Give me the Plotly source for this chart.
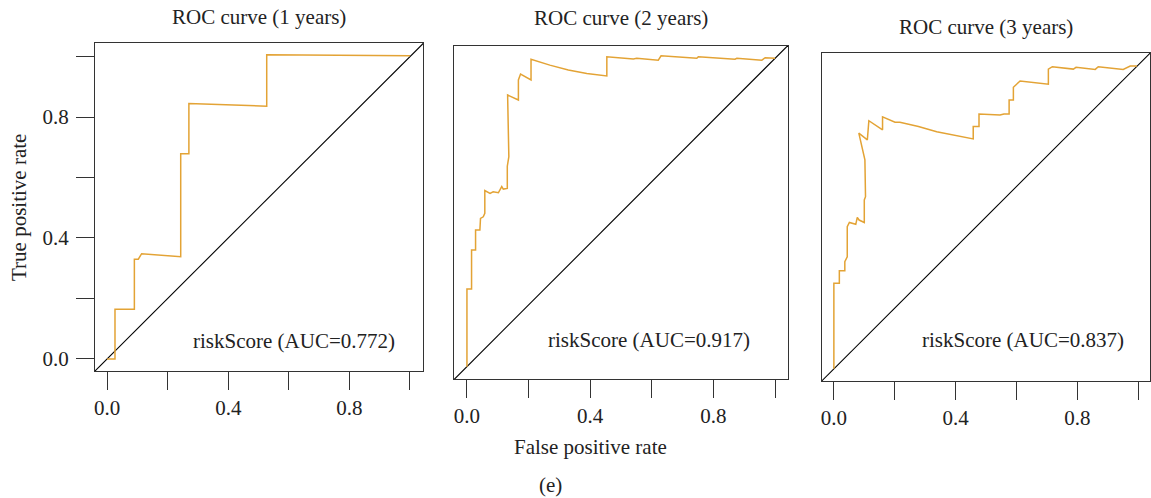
import plotly.graph_objects as go

# ---------------- data ----------------
titles = ["ROC curve (1 years)", "ROC curve (2 years)", "ROC curve (3 years)"]
auc_labels = ["riskScore (AUC=0.772)", "riskScore (AUC=0.917)", "riskScore (AUC=0.837)"]

fpr1 = [0, 0.026, 0.026, 0.090, 0.090, 0.103, 0.114, 0.243, 0.243, 0.270, 0.270, 0.527, 0.527, 1.0]
tpr1 = [0, 0, 0.164, 0.164, 0.330, 0.330, 0.348, 0.338, 0.679, 0.679, 0.845, 0.836, 1.006, 1.003]

fpr2 = [0, 0, 0.015, 0.015, 0.028, 0.028, 0.042, 0.044, 0.053, 0.058,
        0.058, 0.075, 0.085, 0.102, 0.113, 0.118, 0.131, 0.131, 0.136, 0.132,
        0.167, 0.167, 0.174, 0.208, 0.208, 0.269, 0.329, 0.389, 0.454, 0.454,
        0.540, 0.551, 0.621, 0.630, 0.746, 0.751, 0.870, 0.876, 0.957, 0.968, 1.0]
tpr2 = [0, 0.252, 0.252, 0.378, 0.378, 0.443, 0.443, 0.481, 0.486, 0.497,
        0.571, 0.562, 0.567, 0.564, 0.584, 0.576, 0.578, 0.650, 0.681, 0.881,
        0.865, 0.930, 0.949, 0.930, 0.997, 0.978, 0.962, 0.951, 0.943, 1.005,
        0.998, 1.0, 0.994, 1.008, 1.0, 1.005, 0.997, 1.0, 0.994, 1.002, 1.0]

fpr3 = [0, 0, 0.018, 0.018, 0.036, 0.036, 0.044, 0.044, 0.051, 0.072,
        0.077, 0.083, 0.100, 0.100, 0.104, 0.102, 0.082, 0.110, 0.115, 0.160,
        0.160, 0.201, 0.217, 0.278, 0.338, 0.398, 0.458, 0.458, 0.477, 0.477,
        0.546, 0.559, 0.576, 0.576, 0.590, 0.590, 0.612, 0.705, 0.705, 0.718,
        0.787, 0.796, 0.859, 0.869, 0.951, 0.974, 0.996]
tpr3 = [0, 0.282, 0.282, 0.323, 0.323, 0.353, 0.369, 0.468, 0.482, 0.476,
        0.499, 0.490, 0.482, 0.556, 0.567, 0.688, 0.776, 0.754, 0.817, 0.787,
        0.830, 0.812, 0.812, 0.798, 0.781, 0.770, 0.757, 0.798, 0.798, 0.839,
        0.836, 0.839, 0.839, 0.885, 0.885, 0.927, 0.948, 0.937, 0.987, 0.995,
        0.987, 0.993, 0.986, 0.995, 0.986, 0.997, 0.997]

tick_vals = [0, 0.2, 0.4, 0.6, 0.8, 1.0]
tick_text = ["0.0", "", "0.4", "", "0.8", ""]

# ---------------- styling ----------------
W, H = 1151, 498
FONT = "Liberation Serif"
FS = 21
TXT = "#222222"
ORANGE = "#E3A335"
AX = "#333333"

# panel boxes in pixels (left, right, top, bottom)
boxes = [(95, 423, 43, 371), (454, 788, 46, 379), (822, 1150, 53, 381)]
xranges = [[-0.040, 1.043], [-0.042, 1.042], [-0.039, 1.039]]
yranges = [[-0.040, 1.045], [-0.040, 1.040], [-0.040, 1.040]]

fig = go.Figure()
curves = [(fpr1, tpr1), (fpr2, tpr2), (fpr3, tpr3)]
for i, (fx, ty) in enumerate(curves):
    sfx = "" if i == 0 else str(i + 1)
    fig.add_trace(go.Scatter(x=[-0.1, 1.1], y=[-0.1, 1.1], mode="lines",
                             line=dict(color="black", width=1.1),
                             xaxis="x" + sfx, yaxis="y" + sfx, showlegend=False,
                             hoverinfo="skip"))
    fig.add_trace(go.Scatter(x=fx, y=ty, mode="lines",
                             line=dict(color=ORANGE, width=1.5),
                             xaxis="x" + sfx, yaxis="y" + sfx, showlegend=False))

layout = dict(width=W, height=H, margin=dict(l=0, r=0, t=0, b=0, autoexpand=False),
              paper_bgcolor="white", plot_bgcolor="white",
              font=dict(family=FONT, size=FS, color=TXT))

annotations = []
for i, (l, r, t, b) in enumerate(boxes):
    sfx = "" if i == 0 else str(i + 1)
    xa = dict(domain=[l / W, r / W], range=xranges[i], anchor="y" + sfx,
              automargin=False,
              showline=True, mirror=True, linecolor=AX, linewidth=1.2,
              showgrid=False, zeroline=False,
              ticks="outside", ticklen=18, tickwidth=1.2, tickcolor=AX,
              tickvals=tick_vals, ticktext=tick_text,
              tickfont=dict(family=FONT, size=FS, color=TXT),
              ticklabelstandoff=0)
    ya = dict(domain=[1 - b / H, 1 - t / H], range=yranges[i], anchor="x" + sfx,
              automargin=False,
              showline=True, mirror=True, linecolor=AX, linewidth=1.2,
              showgrid=False, zeroline=False)
    if i == 0:
        ya.update(ticks="outside", ticklen=18, tickwidth=1.2, tickcolor=AX,
                  tickvals=tick_vals, ticktext=tick_text,
                  tickfont=dict(family=FONT, size=FS, color=TXT),
                  ticklabelstandoff=3)
    else:
        ya.update(showticklabels=False, ticks="")
    layout["xaxis" + sfx] = xa
    layout["yaxis" + sfx] = ya

    # title
    title_y = [17, 18, 27][i]
    annotations.append(dict(text=titles[i], xref="paper", yref="paper",
                            x=(l + r) / 2 / W, y=1 - title_y / H,
                            xanchor="center", yanchor="middle", showarrow=False,
                            font=dict(family=FONT, size=FS, color=TXT)))

# AUC labels (data coords, right-aligned)
auc_pos = [(0.957, 0.060), (0.925, 0.087), (0.960, 0.095)]
for i, (ax_, ay_) in enumerate(auc_pos):
    sfx = "" if i == 0 else str(i + 1)
    annotations.append(dict(text=auc_labels[i], xref="x" + sfx, yref="y" + sfx,
                            x=ax_, y=ay_, xanchor="right", yanchor="middle",
                            showarrow=False,
                            font=dict(family=FONT, size=FS, color=TXT)))

annotations.append(dict(text="True positive rate", xref="paper", yref="paper",
                        x=19 / W, y=1 - 208 / H, textangle=-90,
                        xanchor="center", yanchor="middle", showarrow=False,
                        font=dict(family=FONT, size=FS, color=TXT)))
annotations.append(dict(text="False positive rate", xref="paper", yref="paper",
                        x=590 / W, y=1 - 447 / H,
                        xanchor="center", yanchor="middle", showarrow=False,
                        font=dict(family=FONT, size=FS, color=TXT)))
annotations.append(dict(text="(e)", xref="paper", yref="paper",
                        x=550 / W, y=1 - 485 / H,
                        xanchor="center", yanchor="middle", showarrow=False,
                        font=dict(family=FONT, size=FS, color=TXT)))

layout["annotations"] = annotations
fig.update_layout(**layout)
fig.write_html("out.html",
               config={"displayModeBar": False},
               post_script="document.body.style.margin='0';document.body.style.overflow='hidden';")
